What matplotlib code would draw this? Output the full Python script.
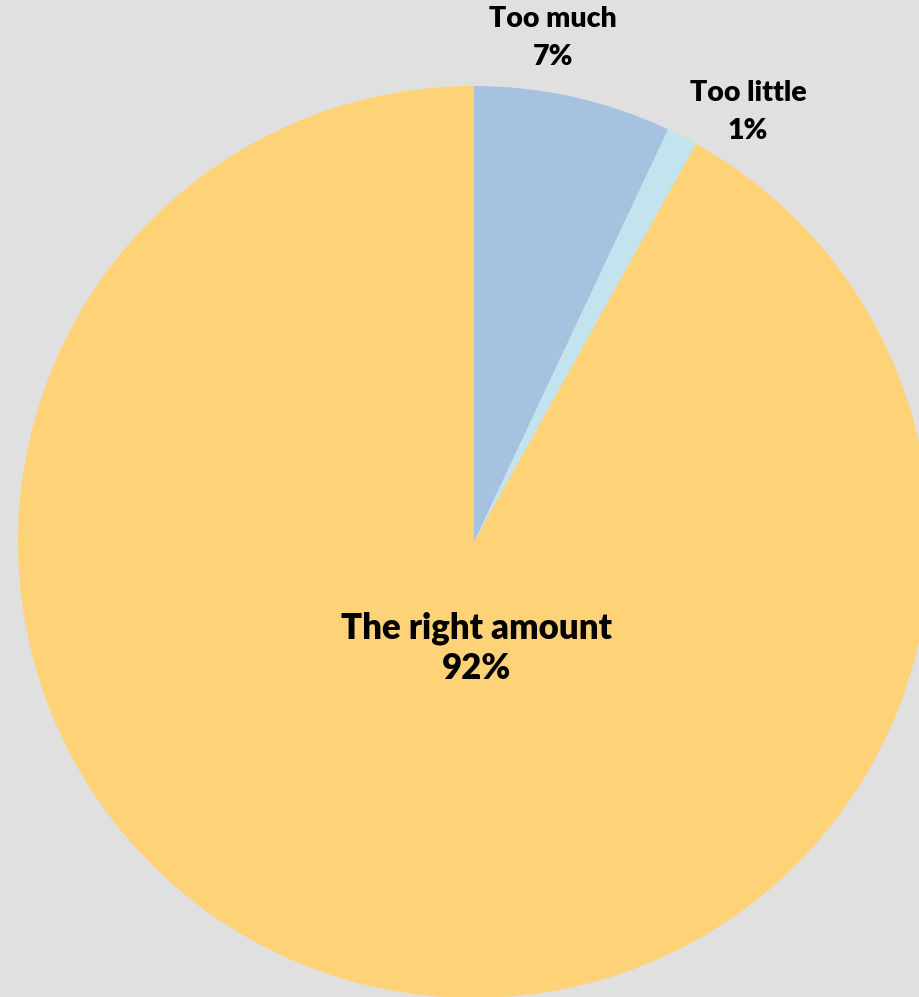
import matplotlib
matplotlib.use("Agg")
import matplotlib.pyplot as plt

labels = ["Too much", "Too little", "The right amount"]
values = [7, 1.1, 91.9]
pct_labels = ["7%", "1%", "92%"]
colors = ["#A7C1E0", "#C3E3EE", "#FED378"]

W, H = 920, 997
fig = plt.figure(figsize=(W / 100, H / 100), dpi=100)
fig.patch.set_facecolor("#E0E0E0")
ax = fig.add_axes([0, 0, 1, 1])
ax.set_facecolor("#E0E0E0")

cx, cy, r = 474, 542, 456
ax.pie(values, colors=colors, startangle=90, counterclock=False,
       center=(cx, -cy), radius=r, frame=True,
       wedgeprops=dict(linewidth=0))
ax.set_aspect("equal")
ax.set_ylim(-H, 0)
ax.set_xlim(0, W)
ax.axis("off")

font = dict(family=["Lato", "DejaVu Sans"], fontweight="heavy", color="black",
            ha="center", va="center")
label_pos = [(553, 38, 20.5, 1.56), (748, 112, 20.5, 1.56), (477, 648, 25, 1.27)]
for lab, pct, (x, y, fs, ls) in zip(labels, pct_labels, label_pos):
    ax.text(x, -y, f"{lab}\n{pct}", fontsize=fs, linespacing=ls, **font)

fig.savefig("out.png", dpi=100, facecolor=fig.get_facecolor())
